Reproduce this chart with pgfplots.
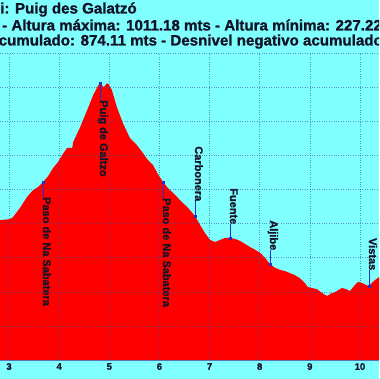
\documentclass[border=0pt]{standalone}
\usepackage{fontspec}
\setmainfont{Liberation Sans}[BoldFont={Liberation Sans Bold}]
\newfontfamily\bsans{Liberation Sans Bold}[FakeBold=1.2]
\usepackage{pgfplots}
\pgfplotsset{compat=1.18}
\definecolor{bgcyan}{RGB}{128,255,255}
\definecolor{gridc}{RGB}{50,80,160}
\definecolor{ptblue}{RGB}{30,50,200}
\definecolor{txt}{RGB}{20,20,40}
\begin{document}
\begin{tikzpicture}[x=1pt,y=1pt]
\useasboundingbox (0,0) rectangle (379,379);
\clip (0,0) rectangle (379,379);
\fill[bgcyan] (0,0) rectangle (379,379);
\node[anchor=base west, inner sep=0pt, font=\bsans\fontsize{15.1}{16}\selectfont, text=txt] at (0,365.5) {i: Puig des Galatzó};
\node[anchor=base west, inner sep=0pt, font=\bsans\fontsize{15.1}{16}\selectfont, text=txt] at (2,348.5) {- Altura máxima: 1011.18 mts - Altura mínima: 227.22 mts};
\node[anchor=base west, inner sep=0pt, font=\bsans\fontsize{15.1}{16}\selectfont, text=txt] at (-1.5,333.5) {cumulado: 874.11 mts - Desnivel negativo acumulado: 874.11 mts};
\begin{axis}[
  at={(0pt,19pt)}, anchor=south west,
  scale only axis, width=379pt, height=307pt,
  xmin=2.82, xmax=10.38, ymin=200, ymax=1100,
  xtick={3,4,5,6,7,8,9,10},
  ytick={200,300,400,500,600,700,800,900,1000,1100},
  yticklabels={},
  grid=major,
  grid style={gridc, opacity=0.6, line width=0.4pt, dash pattern=on 0.8pt off 1.6pt},
  major tick length=0pt,
  axis x line=bottom,
  axis y line=left,
  x axis line style={-, color=gridc!80, line width=0.8pt},
  y axis line style={draw=none},
  axis on top,
  /pgf/number format/assume math mode=true,
  xticklabel style={inner sep=0pt, yshift=-3pt, font=\bsans\fontsize{9.5}{10}\selectfont, text=txt},
]
\addplot[fill=red, draw=none] coordinates {
(2.70,100) (2.70,605) (2.82,610) (3.02,613) (3.08,619) (3.22,646) (3.36,678) (3.48,698) (3.58,707) (3.678,722) (3.78,739) (3.88,763) (3.98,781) (4.06,801) (4.16,822) (4.26,822) (4.28,839) (4.42,883) (4.56,933) (4.68,977) (4.78,1005) (4.815,1011.18) (4.89,1000) (4.95,1011) (4.99,1008) (5.05,992) (5.15,942) (5.27,895) (5.41,851) (5.55,830) (5.67,807) (5.77,786) (5.87,772) (5.97,745) (6.071,722) (6.17,704) (6.27,690) (6.37,675) (6.47,660) (6.57,646) (6.71,622) (6.81,596) (6.91,572) (7.01,552) (7.11,546) (7.21,552) (7.31,558) (7.408,558) (7.51,555) (7.61,549) (7.71,540) (7.81,531) (7.91,523) (8.01,514) (8.11,499) (8.205,481) (8.31,470) (8.41,464) (8.50,461) (8.60,455) (8.70,449) (8.80,440) (8.90,426) (8.96,414) (9.04,411) (9.14,408) (9.22,399) (9.30,391) (9.35,388) (9.41,394) (9.50,399) (9.64,411) (9.72,408) (9.80,402) (9.90,420) (9.96,429) (10.04,426) (10.12,420) (10.18,417) (10.28,432) (10.38,443) (10.50,450) (10.50,100)
};
% connector lines
\addplot[ptblue, line width=0.5pt] coordinates {(3.678,722) (3.678,678)};
\addplot[ptblue, line width=0.5pt] coordinates {(4.815,1011.18) (4.815,962)};
\addplot[ptblue, line width=0.5pt] coordinates {(6.071,722) (6.071,675)};
\addplot[ptblue, line width=0.5pt] coordinates {(6.71,622) (6.71,666)};
\addplot[ptblue, line width=0.5pt] coordinates {(7.408,558) (7.408,599)};
\addplot[ptblue, line width=0.5pt] coordinates {(8.205,481) (8.205,523)};
\addplot[ptblue, line width=0.5pt] coordinates {(10.18,417) (10.18,464)};
% waypoints
\addplot[only marks, mark=square*, mark size=1.1pt, color=ptblue] coordinates {
(3.678,722) (4.815,1011.18) (6.071,722) (6.71,622) (7.408,558) (8.205,481) (10.18,417)};
\begin{scope}[every node/.style={rotate=-90, anchor=base west, inner sep=0pt, font=\bsans\fontsize{11}{12}\selectfont, text=txt}]
\node at (axis cs:3.678,678) {Paso de Na Sabatera};
\node at (axis cs:4.815,962) {Puig de Galtzo};
\node at (axis cs:6.071,675) {Paso de Na Sabatera};
\node at (axis cs:6.71,827) {Carbonera};
\node at (axis cs:7.408,704) {Fuente};
\node at (axis cs:8.205,610) {Aljibe};
\node at (axis cs:10.18,558) {Vistas};
\end{scope}
\end{axis}
\end{tikzpicture}
\end{document}
